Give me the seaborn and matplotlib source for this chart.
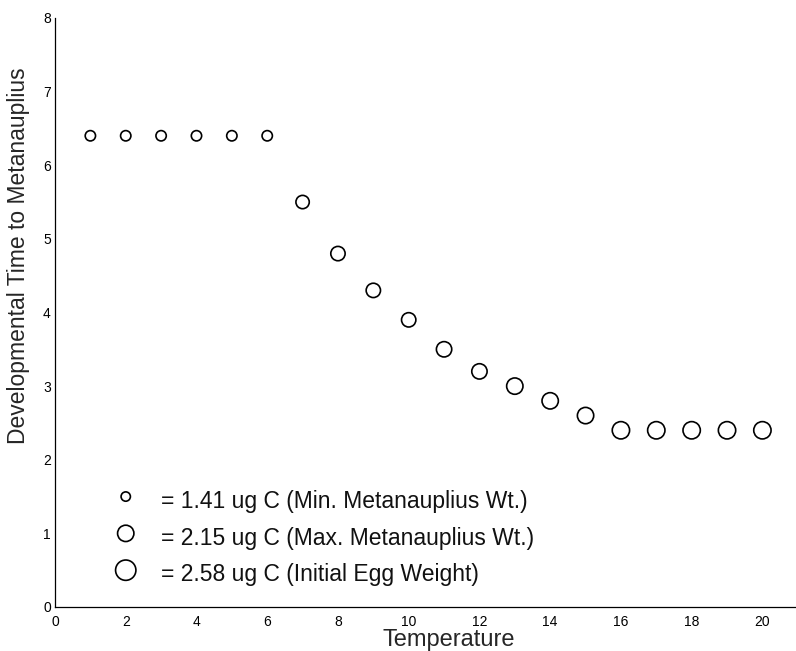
import numpy as np
import pandas as pd
import matplotlib
matplotlib.use("Agg")
import matplotlib.pyplot as plt
import seaborn as sns

# ---- data ----
temperature = list(range(1, 21))
dev_time = [6.4, 6.4, 6.4, 6.4, 6.4, 6.4, 5.5, 4.8, 4.3, 3.9,
            3.5, 3.2, 3.0, 2.8, 2.6, 2.4, 2.4, 2.4, 2.4, 2.4]
marker_diam = [12, 12, 12, 12, 12, 12, 15, 16, 16, 16,
               17, 17, 18, 18, 18, 19, 19, 19, 19, 19]

legend_labels = ["= 1.41 ug C (Min. Metanauplius Wt.)",
                 "= 2.15 ug C (Max. Metanauplius Wt.)",
                 "= 2.58 ug C (Initial Egg Weight)"]
legend_diam = [11, 18, 22]
legend_marker_x = [2, 2, 2]
legend_marker_y = [1.5, 1.0, 0.5]
legend_text_x = [3.0, 3.0, 3.0]
legend_text_y = [1.43, 0.93, 0.44]

xticks = [0, 2, 4, 6, 8, 10, 12, 14, 16, 18, 20]
yticks = [0, 1, 2, 3, 4, 5, 6, 7, 8]

sns.set_style("white")
plt.rcParams["font.family"] = ["Liberation Sans", "DejaVu Sans"]

fig = plt.figure(figsize=(7.96, 6.51), dpi=100)
ax = fig.add_axes([55 / 796, 0.0676, 741 / 796, 0.9048])

def px_to_area(d):
    return (d * 0.72 - 1.2) ** 2

df = pd.DataFrame({"T": temperature, "D": dev_time, "diam": marker_diam})
sns.scatterplot(data=df, x="T", y="D", size="diam",
                sizes={d: px_to_area(d) for d in set(marker_diam)},
                facecolors="none", edgecolor="black", linewidth=1.2,
                marker="o", legend=False, ax=ax)

leg = pd.DataFrame({"x": legend_marker_x, "y": legend_marker_y, "diam": legend_diam})
sns.scatterplot(data=leg, x="x", y="y", size="diam",
                sizes={d: px_to_area(d) for d in legend_diam},
                facecolors="none", edgecolor="black", linewidth=1.2,
                marker="o", legend=False, ax=ax)
for tx, ty, lab in zip(legend_text_x, legend_text_y, legend_labels):
    ax.text(tx, ty, lab, fontsize=16.5, ha="left", va="center", color="#111111")

ax.set_xlim(0, 20.95)
ax.set_ylim(0, 8)
ax.set_xticks(xticks)
ax.set_yticks(yticks)
ax.tick_params(direction="in", length=3.6, width=0.9, labelsize=10,
               colors="black")
ax.tick_params(axis="x", pad=6)
ax.tick_params(axis="y", pad=3)

for s in ["top", "right"]:
    ax.spines[s].set_visible(False)
for s in ["left", "bottom"]:
    ax.spines[s].set_linewidth(0.9)
    ax.spines[s].set_color("black")

ax.set_xlabel("Temperature", fontsize=17)
ax.set_ylabel("Developmental Time to Metanauplius", fontsize=16.5)
ax.xaxis.set_label_coords(0.532, -0.038)
ax.yaxis.set_label_coords(-0.034, 0.596)

fig.savefig("out.png", dpi=100)
